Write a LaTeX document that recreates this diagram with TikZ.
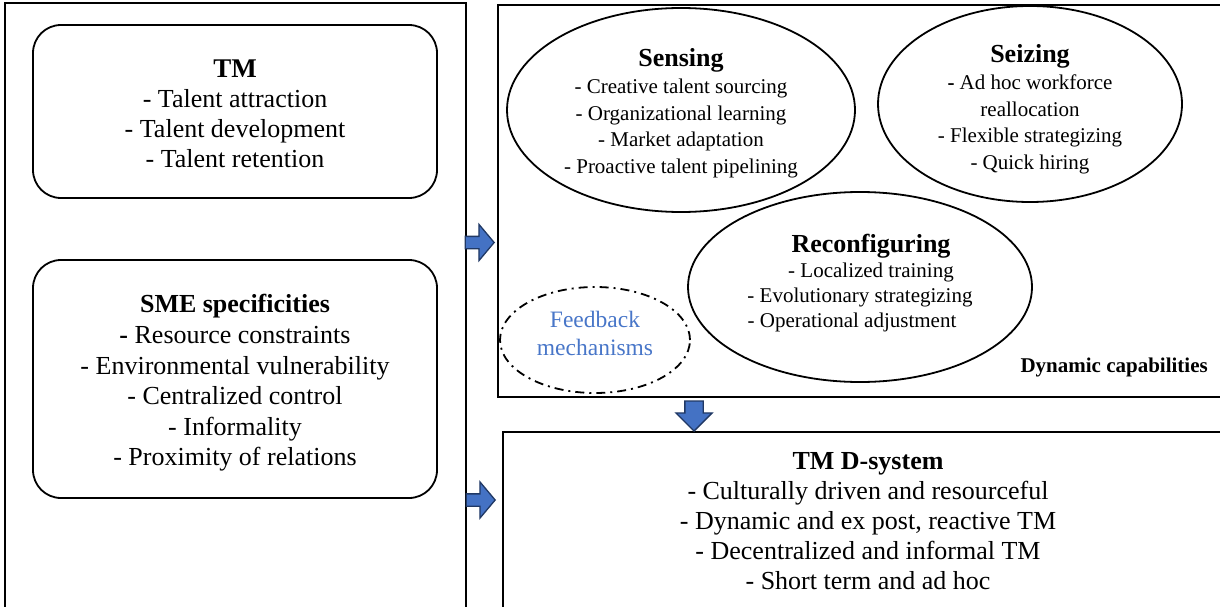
\documentclass[tikz,border=0pt]{standalone}
\usepackage{fontspec}
\setmainfont{Liberation Serif}
\usepackage{tikz}
\usetikzlibrary{shapes,arrows}

\definecolor{arrowblue}{RGB}{68,114,196}
\definecolor{arrowedge}{RGB}{32,56,100}
\definecolor{fbblue}{RGB}{72,118,200}

\begin{document}
\begin{tikzpicture}[x=1pt,y=-1pt]
	\tikzstyle{every node}=[font=\fontsize{26}{30}\selectfont, align=center]
	\tikzstyle{frame}=[draw, line width=2pt, inner sep=0pt]
	\tikzstyle{roundbox}=[draw, line width=1.8pt, rounded corners=28pt, minimum width=404pt, inner sep=0pt]
	\tikzstyle{capellipse}=[draw, ellipse, line width=1.8pt, inner sep=0pt]
	\tikzstyle{captext}=[font=\fontsize{21}{26.7}\selectfont]
	\tikzstyle{blockarrow}=[single arrow, fill=arrowblue, draw=arrowedge, line width=1.3pt, single arrow head indent=0pt]
	
	\useasboundingbox (0,0) rectangle (1220,607);
	\clip (0,0) rectangle (1220,607);
	
	% the three frames
	\node[frame, minimum width=461pt, minimum height=640pt] (leftframe) at (235.5,323) {};
	\node[frame, minimum width=760pt, minimum height=392pt] (dyncap) at (878,201) {};
	\node[frame, minimum width=760pt, minimum height=220pt] (dsystem) at (883,542) {};
	
	% left side
	\node[roundbox, minimum height=173pt] (tm) at (235,111.5) {};
	\node (tmtext) at (235,113.5) {\fontsize{27}{30}\selectfont\textbf{TM}\\- Talent attraction\\- Talent development\\- Talent retention};
	\node[roundbox, minimum height=238pt] (sme) at (235,379) {};
	\node[font=\fontsize{26}{30.6}\selectfont] (smetext) at (235,383) {\textbf{SME specificities}\\\textbf{-} Resource constraints\\- Environmental vulnerability\\- Centralized control\\- Informality\\- Proximity of relations};
	
	% dynamic capabilities
	\node[capellipse, minimum width=348pt, minimum height=204pt] (sensing) at (681,110) {};
	\node[captext] (sensingtext) at (681,113.5) {{\fontsize{26}{27}\selectfont\textbf{Sensing}}\\- Creative talent sourcing\\- Organizational learning\\- Market adaptation\\- Proactive talent pipelining};
	\node[capellipse, minimum width=304pt, minimum height=196pt] (seizing) at (1030,104) {};
	\node[captext] (seizingtext) at (1030,109.5) {{\fontsize{26}{27}\selectfont\textbf{Seizing}}\\\textbf{-} Ad hoc workforce\\reallocation\\- Flexible strategizing\\- Quick hiring};
	\node[capellipse, minimum width=344pt, minimum height=190pt] (reconf) at (860,287) {};
	\node[captext, font=\fontsize{21}{25}\selectfont] (reconftext) at (860,283.5) {\hspace*{22pt}{\fontsize{26}{25}\selectfont\textbf{Reconfiguring}}\\\hspace*{22pt}- Localized training\\- Evolutionary strategizing\hspace*{16pt}\\- Operational adjustment\hspace*{16pt}};
	\node[capellipse, dash pattern=on 9pt off 5pt on 2pt off 5pt, minimum width=190pt, minimum height=106pt] (feedback) at (595,340) {};
	\node[text=fbblue, font=\fontsize{23.5}{28}\selectfont] (feedbacktext) at (595,333) {Feedback\\mechanisms};
	\node[anchor=base west, font=\fontsize{21}{25}\selectfont\bfseries] (dctitle) at (1017,372) {Dynamic capabilities};
	
	% outcome
	\node (dstext) at (868,521) {\textbf{TM D-system}\\- Culturally driven and resourceful\\- Dynamic and ex post, reactive TM\\- Decentralized and informal TM\\- Short term and ad hoc};
	
	% block arrows
	\node[blockarrow, anchor=tip, minimum height=29pt, inner xsep=0pt, inner ysep=5.5pt, single arrow head extend=12pt, single arrow tip angle=100] (arrowA) at (495,242.5) {};
	\node[blockarrow, anchor=tip, minimum height=29pt, inner xsep=0pt, inner ysep=5.5pt, single arrow head extend=12pt, single arrow tip angle=100] (arrowB) at (496,500) {};
	\node[blockarrow, anchor=tip, shape border rotate=270, minimum height=30pt, inner xsep=8.5pt, inner ysep=0pt, single arrow head extend=9pt] (arrowC) at (694,432) {};
	
\end{tikzpicture}
\end{document}
